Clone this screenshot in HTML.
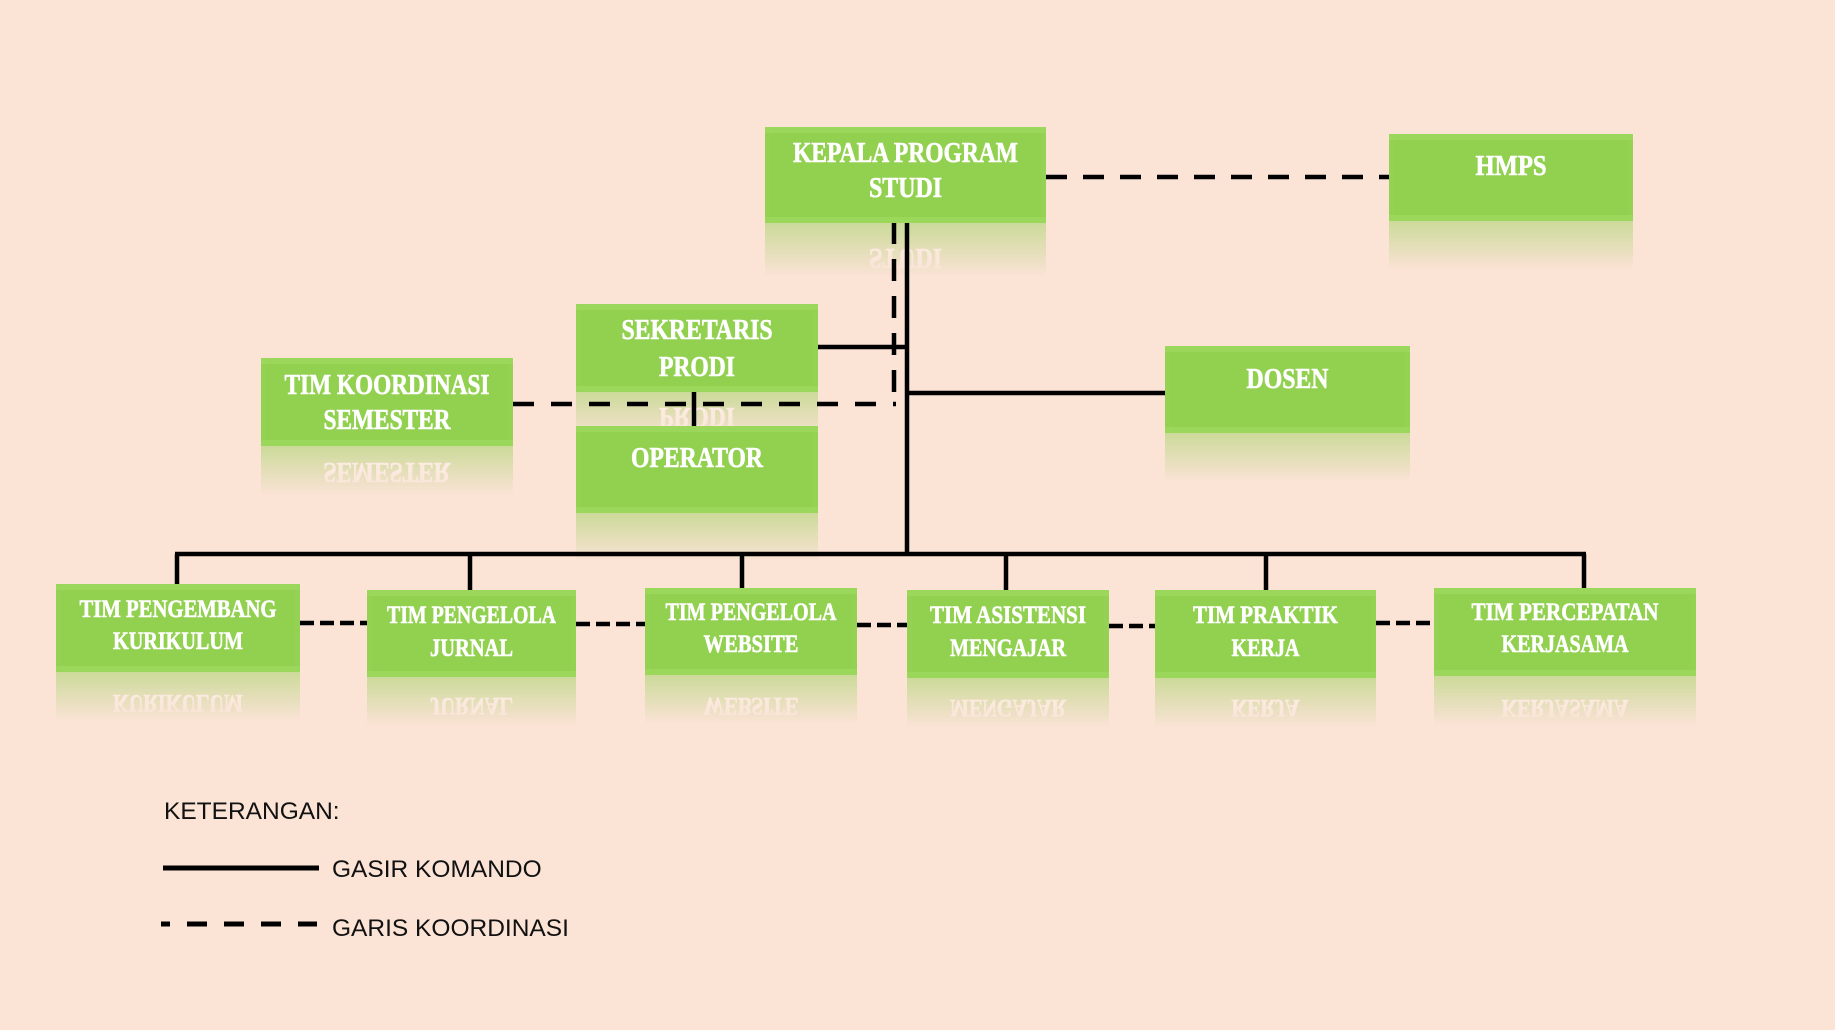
<!DOCTYPE html>
<html>
<head>
<meta charset="utf-8">
<style>
html,body{margin:0;padding:0;background:#FBE3D6;}
body{width:1835px;height:1030px;overflow:hidden;}
svg{display:block;}
.t{font-family:"Liberation Serif",serif;font-weight:bold;fill:#fff;text-anchor:middle;stroke:#fff;stroke-width:0.6px;}
.t28{font-size:28px;}
.t25{font-size:25px;}
.lg{font-family:"Liberation Sans",sans-serif;font-size:24.5px;fill:#111;}
.bo{fill:#95D253;}
.bi{fill:#92D050;}
.bt{fill:#9BD75B;}
</style>
</head>
<body>
<svg width="1835" height="1030" viewBox="0 0 1835 1030" xmlns="http://www.w3.org/2000/svg">
<defs>
  <linearGradient id="rg" x1="0" y1="0" x2="0" y2="1">
    <stop offset="0" stop-color="#fff" stop-opacity="0.45"/>
    <stop offset="0.56" stop-color="#fff" stop-opacity="0"/>
  </linearGradient>
  <mask id="rm" maskContentUnits="objectBoundingBox">
    <rect x="0" y="0" width="1" height="1" fill="url(#rg)"/>
  </mask>
</defs>
<rect x="0" y="0" width="1835" height="1030" fill="#FBE3D6"/>

<!-- REFLECTIONS -->
<g mask="url(#rm)"><g transform="translate(0,446) scale(1,-1)"><rect x="765" y="127" width="281" height="96" fill="#92D050"/><text class="t t28" x="905.5" y="197" textLength="73" lengthAdjust="spacingAndGlyphs">STUDI</text></g></g>
<g mask="url(#rm)"><g transform="translate(0,442) scale(1,-1)"><rect x="1389" y="134" width="244" height="87" fill="#92D050"/></g></g>
<g mask="url(#rm)"><g transform="translate(0,784) scale(1,-1)"><rect x="576" y="304" width="242" height="88" fill="#92D050"/><text class="t t28" x="697" y="376" textLength="76" lengthAdjust="spacingAndGlyphs">PRODI</text></g></g>
<g mask="url(#rm)"><g transform="translate(0,892) scale(1,-1)"><rect x="261" y="358" width="252" height="88" fill="#92D050"/><text class="t t28" x="387" y="429" textLength="127" lengthAdjust="spacingAndGlyphs">SEMESTER</text></g></g>
<g mask="url(#rm)"><g transform="translate(0,1026) scale(1,-1)"><rect x="576" y="426" width="242" height="87" fill="#92D050"/></g></g>
<g mask="url(#rm)"><g transform="translate(0,866) scale(1,-1)"><rect x="1165" y="346" width="245" height="87" fill="#92D050"/></g></g>

<g mask="url(#rm)"><g transform="translate(0,1344) scale(1,-1)"><rect x="56" y="584" width="244" height="88" fill="#92D050"/><text class="t t25" x="178" y="649" textLength="130" lengthAdjust="spacingAndGlyphs">KURIKULUM</text></g></g>
<g mask="url(#rm)"><g transform="translate(0,1354) scale(1,-1)"><rect x="367" y="590" width="209" height="87" fill="#92D050"/><text class="t t25" x="471.5" y="656" textLength="83" lengthAdjust="spacingAndGlyphs">JURNAL</text></g></g>
<g mask="url(#rm)"><g transform="translate(0,1350) scale(1,-1)"><rect x="645" y="588" width="212" height="87" fill="#92D050"/><text class="t t25" x="751" y="652" textLength="95" lengthAdjust="spacingAndGlyphs">WEBSITE</text></g></g>
<g mask="url(#rm)"><g transform="translate(0,1356) scale(1,-1)"><rect x="907" y="590" width="202" height="88" fill="#92D050"/><text class="t t25" x="1008" y="656" textLength="116" lengthAdjust="spacingAndGlyphs">MENGAJAR</text></g></g>
<g mask="url(#rm)"><g transform="translate(0,1356) scale(1,-1)"><rect x="1155" y="590" width="221" height="88" fill="#92D050"/><text class="t t25" x="1265.5" y="656" textLength="68" lengthAdjust="spacingAndGlyphs">KERJA</text></g></g>
<g mask="url(#rm)"><g transform="translate(0,1352) scale(1,-1)"><rect x="1434" y="588" width="262" height="88" fill="#92D050"/><text class="t t25" x="1565" y="652" textLength="127" lengthAdjust="spacingAndGlyphs">KERJASAMA</text></g></g>

<!-- CONNECTORS -->
<g stroke="#000" stroke-width="4.5" fill="none">
  <line x1="1046" y1="177" x2="1389" y2="177" stroke-dasharray="21 16"/>
  <line x1="907" y1="223" x2="907" y2="556"/>
  <line x1="894" y1="222" x2="894" y2="400" stroke-dasharray="22 15"/>
  <line x1="818" y1="347" x2="907" y2="347"/>
  <line x1="907" y1="393" x2="1165" y2="393"/>
  <line x1="513" y1="404" x2="896" y2="404" stroke-dasharray="21 17"/>
  <line x1="694" y1="392" x2="694" y2="426"/>
  <line x1="175" y1="554" x2="1586" y2="554"/>
  <line x1="177" y1="554" x2="177" y2="584"/>
  <line x1="470" y1="554" x2="470" y2="590"/>
  <line x1="742" y1="554" x2="742" y2="588"/>
  <line x1="1006" y1="554" x2="1006" y2="590"/>
  <line x1="1266" y1="554" x2="1266" y2="590"/>
  <line x1="1584" y1="554" x2="1584" y2="588"/>
  <line x1="300" y1="623" x2="367" y2="623" stroke-dasharray="14 6"/>
  <line x1="576" y1="624" x2="645" y2="624" stroke-dasharray="14 6"/>
  <line x1="857" y1="625" x2="907" y2="625" stroke-dasharray="14 6"/>
  <line x1="1109" y1="626" x2="1155" y2="626" stroke-dasharray="14 6"/>
  <line x1="1376" y1="623" x2="1434" y2="623" stroke-dasharray="14 6"/>
</g>

<!-- BOXES -->
<g>
  <rect class="bo" x="765" y="127" width="281" height="96"/><rect class="bt" x="765" y="127" width="281" height="6"/><rect class="bt" x="765" y="217" width="281" height="6"/><rect class="bi" x="770" y="133" width="271" height="84"/>
  <text class="t t28" x="905.5" y="162" textLength="225" lengthAdjust="spacingAndGlyphs">KEPALA PROGRAM</text>
  <text class="t t28" x="905.5" y="197" textLength="73" lengthAdjust="spacingAndGlyphs">STUDI</text>
</g>
<g>
  <rect class="bo" x="1389" y="134" width="244" height="87"/><rect class="bt" x="1389" y="134" width="244" height="6"/><rect class="bt" x="1389" y="215" width="244" height="6"/><rect class="bi" x="1394" y="140" width="234" height="75"/>
  <text class="t t28" x="1511" y="175" textLength="71" lengthAdjust="spacingAndGlyphs">HMPS</text>
</g>
<g>
  <rect class="bo" x="576" y="304" width="242" height="88"/><rect class="bt" x="576" y="304" width="242" height="6"/><rect class="bt" x="576" y="386" width="242" height="6"/><rect class="bi" x="581" y="310" width="232" height="76"/>
  <text class="t t28" x="697" y="339" textLength="151" lengthAdjust="spacingAndGlyphs">SEKRETARIS</text>
  <text class="t t28" x="697" y="376" textLength="76" lengthAdjust="spacingAndGlyphs">PRODI</text>
</g>
<g>
  <rect class="bo" x="261" y="358" width="252" height="88"/><rect class="bt" x="261" y="358" width="252" height="6"/><rect class="bt" x="261" y="440" width="252" height="6"/><rect class="bi" x="266" y="364" width="242" height="76"/>
  <text class="t t28" x="387" y="394" textLength="205" lengthAdjust="spacingAndGlyphs">TIM KOORDINASI</text>
  <text class="t t28" x="387" y="429" textLength="127" lengthAdjust="spacingAndGlyphs">SEMESTER</text>
</g>
<g>
  <rect class="bo" x="576" y="426" width="242" height="87"/><rect class="bt" x="576" y="426" width="242" height="6"/><rect class="bt" x="576" y="507" width="242" height="6"/><rect class="bi" x="581" y="432" width="232" height="75"/>
  <text class="t t28" x="697" y="467" textLength="132" lengthAdjust="spacingAndGlyphs">OPERATOR</text>
</g>
<g>
  <rect class="bo" x="1165" y="346" width="245" height="87"/><rect class="bt" x="1165" y="346" width="245" height="6"/><rect class="bt" x="1165" y="427" width="245" height="6"/><rect class="bi" x="1170" y="352" width="235" height="75"/>
  <text class="t t28" x="1287.5" y="388" textLength="82" lengthAdjust="spacingAndGlyphs">DOSEN</text>
</g>

<g>
  <rect class="bo" x="56" y="584" width="244" height="88"/><rect class="bt" x="56" y="584" width="244" height="6"/><rect class="bt" x="56" y="666" width="244" height="6"/><rect class="bi" x="61" y="590" width="234" height="76"/>
  <text class="t t25" x="178" y="617" textLength="197" lengthAdjust="spacingAndGlyphs">TIM PENGEMBANG</text>
  <text class="t t25" x="178" y="649" textLength="130" lengthAdjust="spacingAndGlyphs">KURIKULUM</text>
</g>
<g>
  <rect class="bo" x="367" y="590" width="209" height="87"/><rect class="bt" x="367" y="590" width="209" height="6"/><rect class="bt" x="367" y="671" width="209" height="6"/><rect class="bi" x="372" y="596" width="199" height="75"/>
  <text class="t t25" x="471.5" y="623" textLength="169" lengthAdjust="spacingAndGlyphs">TIM PENGELOLA</text>
  <text class="t t25" x="471.5" y="656" textLength="83" lengthAdjust="spacingAndGlyphs">JURNAL</text>
</g>
<g>
  <rect class="bo" x="645" y="588" width="212" height="87"/><rect class="bt" x="645" y="588" width="212" height="6"/><rect class="bt" x="645" y="669" width="212" height="6"/><rect class="bi" x="650" y="594" width="202" height="75"/>
  <text class="t t25" x="751" y="620" textLength="171" lengthAdjust="spacingAndGlyphs">TIM PENGELOLA</text>
  <text class="t t25" x="751" y="652" textLength="95" lengthAdjust="spacingAndGlyphs">WEBSITE</text>
</g>
<g>
  <rect class="bo" x="907" y="590" width="202" height="88"/><rect class="bt" x="907" y="590" width="202" height="6"/><rect class="bt" x="907" y="672" width="202" height="6"/><rect class="bi" x="912" y="596" width="192" height="76"/>
  <text class="t t25" x="1008" y="623" textLength="156" lengthAdjust="spacingAndGlyphs">TIM ASISTENSI</text>
  <text class="t t25" x="1008" y="656" textLength="116" lengthAdjust="spacingAndGlyphs">MENGAJAR</text>
</g>
<g>
  <rect class="bo" x="1155" y="590" width="221" height="88"/><rect class="bt" x="1155" y="590" width="221" height="6"/><rect class="bt" x="1155" y="672" width="221" height="6"/><rect class="bi" x="1160" y="596" width="211" height="76"/>
  <text class="t t25" x="1265.5" y="623" textLength="145" lengthAdjust="spacingAndGlyphs">TIM PRAKTIK</text>
  <text class="t t25" x="1265.5" y="656" textLength="68" lengthAdjust="spacingAndGlyphs">KERJA</text>
</g>
<g>
  <rect class="bo" x="1434" y="588" width="262" height="88"/><rect class="bt" x="1434" y="588" width="262" height="6"/><rect class="bt" x="1434" y="670" width="262" height="6"/><rect class="bi" x="1439" y="594" width="252" height="76"/>
  <text class="t t25" x="1565" y="620" textLength="187" lengthAdjust="spacingAndGlyphs">TIM PERCEPATAN</text>
  <text class="t t25" x="1565" y="652" textLength="127" lengthAdjust="spacingAndGlyphs">KERJASAMA</text>
</g>

<!-- LEGEND -->
<text class="lg" x="164" y="819">KETERANGAN:</text>
<line x1="163" y1="868" x2="319" y2="868" stroke="#000" stroke-width="5"/>
<text class="lg" x="332" y="877">GASIR KOMANDO</text>
<line x1="161" y1="924" x2="317" y2="924" stroke="#000" stroke-width="5" stroke-dasharray="20 17" stroke-dashoffset="11"/>
<text class="lg" x="332" y="936">GARIS KOORDINASI</text>
</svg>
</body>
</html>
